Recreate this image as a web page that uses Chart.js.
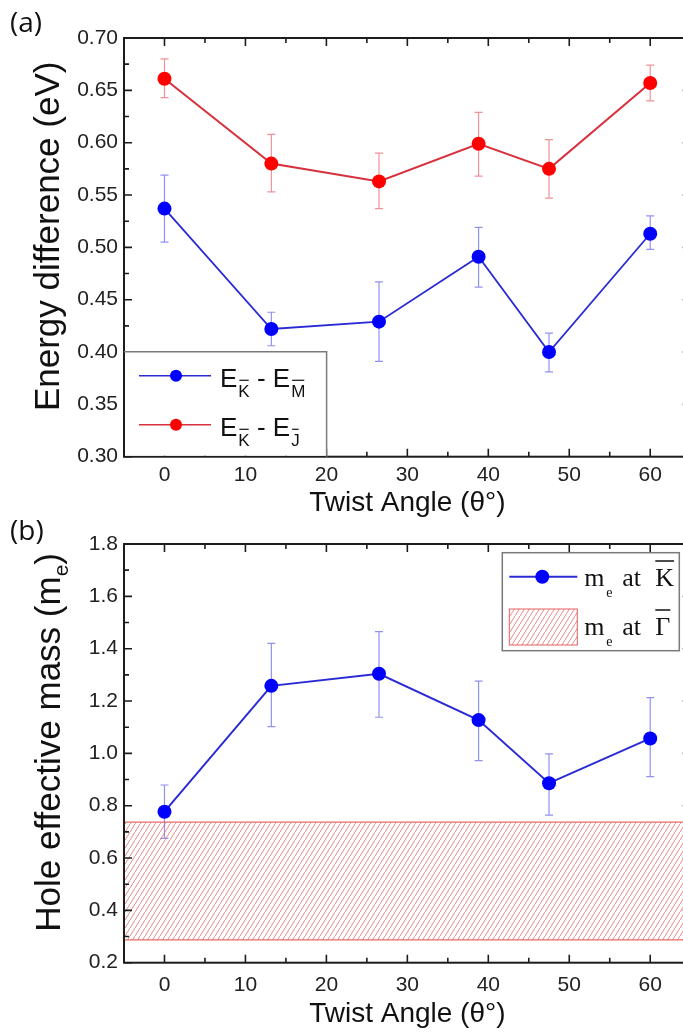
<!DOCTYPE html>
<html>
<head>
<meta charset="utf-8">
<script src="https://cdn.jsdelivr.net/npm/chart.js@4.4.0/dist/chart.umd.min.js"></script>
<style>
  html, body { margin: 0; padding: 0; background: #fff; overflow: hidden; width: 683px; height: 1033px; }
  .panel { position: absolute; left: 0; }
  #boxA { top: 0; }
  #boxB { top: 520px; }
</style>
</head>
<body>
<div class="panel" id="boxA"><canvas id="chartA" width="720" height="520"></canvas></div>
<div class="panel" id="boxB"><canvas id="chartB" width="720" height="513"></canvas></div>
<script>
// twist angles (deg)
const angles = [0, 13.2, 26.5, 38.8, 47.5, 60];

// (a) energy differences (eV) with error bar ends
const gapKM = [0.537, 0.422, 0.429, 0.491, 0.400, 0.513];
const gapKMLow = [0.505, 0.406, 0.391, 0.462, 0.381, 0.498];
const gapKMHigh = [0.569, 0.438, 0.467, 0.519, 0.418, 0.530];
const gapKJ = [0.661, 0.580, 0.563, 0.599, 0.575, 0.657];
const gapKJLow = [0.643, 0.553, 0.537, 0.568, 0.547, 0.640];
const gapKJHigh = [0.680, 0.608, 0.590, 0.629, 0.603, 0.674];

// (b) hole effective mass (m_e)
const massK = [0.777, 1.258, 1.304, 1.127, 0.886, 1.057];
const massKLow = [0.675, 1.102, 1.138, 0.972, 0.764, 0.911];
const massKHigh = [0.879, 1.420, 1.465, 1.276, 0.998, 1.213];
const massGamma = [0.287, 0.737]; // band at Gamma, low / high

// tick labels
const angleTicks = [0, 10, 20, 30, 40, 50, 60];
const energyTicks = [0.30, 0.35, 0.40, 0.45, 0.50, 0.55, 0.60, 0.65, 0.70];
const massTicks = [0.2, 0.4, 0.6, 0.8, 1.0, 1.2, 1.4, 1.6, 1.8];

const SANS = '"Liberation Sans", Arial, sans-serif';
const SERIF = '"Liberation Serif", "Times New Roman", serif';

const pts = (xs, ys) => xs.map((x, i) => ({ x: x, y: ys[i] }));

// majors from the list, minors half way between
const withMinors = (list) => {
  let out = [];
  list.forEach((v, i) => {
    out.push({ value: v, major: true });
    if (i < list.length - 1) out.push({ value: (v + list[i + 1]) / 2, major: false });
  });
  return out;
};

const hatch = () => {
  let c = document.createElement("canvas");
  c.width = 5;
  c.height = 8;
  let g = c.getContext("2d");
  g.strokeStyle = "rgba(226,90,90,0.7)";
  g.lineWidth = 1;
  g.beginPath();
  g.moveTo(0, 8);
  g.lineTo(5, 0);
  g.stroke();
  return g.createPattern(c, "repeat");
};
const hatchFill = hatch();

const errorBars = {
  id: "errorBars",
  beforeDatasetsDraw(chart) {
    const ctx = chart.ctx, y = chart.scales.y;
    chart.data.datasets.forEach((ds, i) => {
      if (!ds.errLow) return;
      const meta = chart.getDatasetMeta(i);
      ctx.save();
      ctx.strokeStyle = ds.errColor;
      ctx.lineWidth = 1.2;
      ctx.beginPath();
      meta.data.forEach((pt, j) => {
        const top = y.getPixelForValue(ds.errHigh[j]);
        const bot = y.getPixelForValue(ds.errLow[j]);
        ctx.moveTo(pt.x, top); ctx.lineTo(pt.x, bot);
        ctx.moveTo(pt.x - 4, top); ctx.lineTo(pt.x + 4, top);
        ctx.moveTo(pt.x - 4, bot); ctx.lineTo(pt.x + 4, bot);
      });
      ctx.stroke();
      ctx.restore();
    });
  },
};

// box with inward ticks on all four sides
const frame = {
  id: "frame",
  afterDatasetsDraw(chart) {
    const { ctx, chartArea: a, scales: { x, y } } = chart;
    ctx.save();
    ctx.strokeStyle = "#1c1c1c";
    ctx.lineWidth = 1.6;
    ctx.beginPath();
    x.ticks.forEach((t) => {
      const px = x.getPixelForValue(t.value), len = t.major ? 8 : 5;
      ctx.moveTo(px, a.bottom); ctx.lineTo(px, a.bottom - len);
      ctx.moveTo(px, a.top); ctx.lineTo(px, a.top + len);
    });
    y.ticks.forEach((t) => {
      const py = y.getPixelForValue(t.value), len = t.major ? 8 : 5;
      ctx.moveTo(a.left, py); ctx.lineTo(a.left + len, py);
      ctx.moveTo(a.right, py); ctx.lineTo(a.right - len, py);
    });
    ctx.stroke();
    ctx.lineWidth = 2;
    ctx.strokeRect(a.left, a.top, a.right - a.left, a.bottom - a.top);
    ctx.restore();
  },
};

// text with a small overlined letter set low
const barSub = (ctx, x, base, letter, size, drop) => {
  ctx.font = size + "px " + SANS;
  ctx.fillText(letter, x, base + drop);
  const w = ctx.measureText(letter).width;
  ctx.save();
  ctx.lineWidth = 1.2;
  ctx.beginPath();
  ctx.moveTo(x + 1, base + drop - size * 0.73 - 4);
  ctx.lineTo(x + w - 1, base + drop - size * 0.73 - 4);
  ctx.stroke();
  ctx.restore();
  return w;
};

const rotTitle = (ctx, parts, cx, cy) => {
  ctx.save();
  ctx.translate(cx, cy);
  ctx.rotate(-Math.PI / 2);
  ctx.fillStyle = "#111";
  ctx.textBaseline = "alphabetic";
  let total = 0;
  parts.forEach((p) => {
    ctx.font = p.size + "px " + SANS;
    p.w = ctx.measureText(p.t).width;
    total += p.w;
  });
  let x = -total / 2;
  parts.forEach((p) => {
    ctx.font = p.size + "px " + SANS;
    ctx.fillText(p.t, x, p.dy);
    x += p.w;
  });
  ctx.restore();
};

const panelLabel = (ctx, text, x, y) => {
  ctx.save();
  ctx.font = '28px "Open Sans", "Noto Sans", sans-serif';
  ctx.fillStyle = "#111";
  ctx.textBaseline = "middle";
  ctx.fillText(text, x, y);
  ctx.restore();
};

const legendA = {
  id: "legendA",
  afterDraw(chart) {
    const { ctx, chartArea: a } = chart;
    const L = a.left, T = a.bottom - 105, R = L + 202.6, B = a.bottom;
    ctx.save();
    ctx.fillStyle = "#fff";
    ctx.fillRect(L + 1, T, R - L - 1, B - T - 1);
    ctx.strokeStyle = "#7a7a7a";
    ctx.lineWidth = 1.5;
    ctx.beginPath();
    ctx.moveTo(L, T); ctx.lineTo(R, T); ctx.lineTo(R, B);
    ctx.stroke();
    const rows = [
      { ds: chart.data.datasets[0], sub: "M", y: T + 24 },
      { ds: chart.data.datasets[1], sub: "J", y: T + 73 },
    ];
    rows.forEach((r) => {
      ctx.strokeStyle = r.ds.borderColor;
      ctx.lineWidth = 1.6;
      ctx.beginPath();
      ctx.moveTo(L + 15, r.y); ctx.lineTo(L + 87, r.y);
      ctx.stroke();
      ctx.fillStyle = r.ds.pointBackgroundColor;
      ctx.beginPath();
      ctx.arc(L + 52, r.y, 6, 0, Math.PI * 2);
      ctx.fill();
      ctx.fillStyle = "#111";
      ctx.strokeStyle = "#111";
      const base = r.y + 11;
      let x = L + 96;
      ctx.font = "26px " + SANS;
      ctx.fillText("E", x, base);
      x += ctx.measureText("E").width + 1;
      x += barSub(ctx, x, base, "K", 17, 10);
      ctx.font = "26px " + SANS;
      ctx.fillText(" - E", x, base);
      x += ctx.measureText(" - E").width + 1;
      barSub(ctx, x, base, r.sub, 17, 10);
    });
    ctx.restore();
    rotTitle(ctx, [{ t: "Energy difference (eV)", size: 35, dy: 12 }], 47, (a.top + a.bottom) / 2 - 11);
    panelLabel(ctx, "(a)", 10, 24);
  },
};

const legendB = {
  id: "legendB",
  afterDraw(chart) {
    const { ctx, chartArea: a } = chart;
    const R = a.right - 11.4, L = R - 177, T = a.top + 8.7, B = T + 98;
    ctx.save();
    ctx.fillStyle = "#fff";
    ctx.fillRect(L, T, R - L, B - T);
    ctx.strokeStyle = "#7a7a7a";
    ctx.lineWidth = 1.5;
    ctx.strokeRect(L, T, R - L, B - T);
    const ds = chart.data.datasets[0];
    const y1 = T + 24;
    ctx.strokeStyle = ds.borderColor;
    ctx.lineWidth = 2;
    ctx.beginPath();
    ctx.moveTo(L + 7, y1); ctx.lineTo(L + 75, y1);
    ctx.stroke();
    ctx.fillStyle = ds.pointBackgroundColor;
    ctx.beginPath();
    ctx.arc(L + 40, y1, 7, 0, Math.PI * 2);
    ctx.fill();
    ctx.fillStyle = hatchFill;
    ctx.fillRect(L + 7, T + 56.3, 68, 36);
    ctx.strokeStyle = "rgba(226,80,80,0.9)";
    ctx.lineWidth = 1;
    ctx.strokeRect(L + 7, T + 56.3, 68, 36);
    ctx.fillStyle = "#111";
    ctx.strokeStyle = "#111";
    [{ b: T + 33.3, sym: "K" }, { b: T + 82.3, sym: "Γ" }].forEach((r) => {
      ctx.font = "26px " + SERIF;
      ctx.fillText("m", L + 82, r.b);
      ctx.fillText("at", L + 120, r.b);
      ctx.fillText(r.sym, L + 153, r.b);
      const w = ctx.measureText(r.sym).width;
      ctx.lineWidth = 1.5;
      ctx.beginPath();
      ctx.moveTo(L + 153, r.b - 25); ctx.lineTo(L + 153 + w, r.b - 25);
      ctx.stroke();
      ctx.font = "14px " + SERIF;
      ctx.fillText("e", L + 104, r.b + 11);
    });
    ctx.restore();
    rotTitle(ctx, [
      { t: "Hole effective mass (m", size: 35, dy: 12 },
      { t: "e", size: 21, dy: 20 },
      { t: ")", size: 35, dy: 12 },
    ], 48, (a.top + a.bottom) / 2 - 11);
    panelLabel(ctx, "(b)", 10, 12);
  },
};

const xAxis = (pad, height, titlePad) => ({
  type: "linear",
  min: -5,
  max: 65,
  afterBuildTicks: (s) => { s.ticks = withMinors(angleTicks); },
  afterFit: (s) => { s.height = height; },
  grid: { display: false, drawTicks: false },
  border: { display: false },
  ticks: {
    padding: pad,
    autoSkip: false,
    maxRotation: 0,
    color: "#222",
    font: { family: SANS, size: 21 },
    callback: (v, i, t) => (t[i].major ? String(v) : ""),
  },
  title: {
    display: true,
    text: "Twist Angle (θ°)",
    color: "#111",
    font: { family: SANS, size: 28 },
    padding: { top: 0, bottom: titlePad },
  },
});

const yAxis = (min, max, list, digits) => ({
  type: "linear",
  min: min,
  max: max,
  afterBuildTicks: (s) => { s.ticks = withMinors(list); },
  afterFit: (s) => { s.width = 124; },
  grid: { display: false, drawTicks: false },
  border: { display: false },
  ticks: {
    padding: 6,
    autoSkip: false,
    color: "#222",
    font: { family: SANS, size: 21 },
    callback: (v, i, t) => (t[i].major ? v.toFixed(digits) : ""),
  },
});

barChart = new Chart(document.getElementById("chartA"), {
  type: "line",
  data: {
    datasets: [
      {
        label: "E_K - E_M",
        data: pts(angles, gapKM),
        errLow: gapKMLow,
        errHigh: gapKMHigh,
        errColor: "rgba(100,100,235,0.7)",
        borderColor: "#2b2bd6",
        borderWidth: 1.8,
        pointBackgroundColor: "#0000ff",
        pointBorderWidth: 0,
        pointRadius: 7,
      },
      {
        label: "E_K - E_J",
        data: pts(angles, gapKJ),
        errLow: gapKJLow,
        errHigh: gapKJHigh,
        errColor: "rgba(235,100,110,0.7)",
        borderColor: "#d8303c",
        borderWidth: 2,
        pointBackgroundColor: "#ff0000",
        pointBorderWidth: 0,
        pointRadius: 7,
      },
    ],
  },
  options: {
    responsive: false,
    animation: false,
    layout: { padding: { top: 38, right: 29.3, left: 0, bottom: 0 } },
    plugins: { legend: { display: false }, tooltip: { enabled: false } },
    scales: {
      x: xAxis(6, 63.3, 0),
      y: yAxis(0.3, 0.7, energyTicks, 2),
    },
  },
  plugins: [errorBars, frame, legendA],
});

barPrin = new Chart(document.getElementById("chartB"), {
  type: "line",
  data: {
    datasets: [
      {
        label: "m_e at K",
        data: pts(angles, massK),
        errLow: massKLow,
        errHigh: massKHigh,
        errColor: "rgba(100,100,235,0.7)",
        borderColor: "#2b2bd6",
        borderWidth: 2,
        pointBackgroundColor: "#0000ff",
        pointBorderWidth: 0,
        pointRadius: 7,
        order: 0,
      },
      {
        label: "Gamma top",
        data: pts([-5, 65], [massGamma[1], massGamma[1]]),
        borderColor: "rgba(230,90,90,0.9)",
        borderWidth: 1.2,
        pointRadius: 0,
        fill: false,
        order: 1,
      },
      {
        label: "m_e at Gamma",
        data: pts([-5, 65], [massGamma[0], massGamma[0]]),
        borderColor: "rgba(230,90,90,0.9)",
        borderWidth: 1.2,
        pointRadius: 0,
        backgroundColor: hatchFill,
        fill: "-1",
        order: 2,
      },
    ],
  },
  options: {
    responsive: false,
    animation: false,
    layout: { padding: { top: 24, right: 29.3, left: 0, bottom: 0 } },
    plugins: { legend: { display: false }, tooltip: { enabled: false } },
    scales: {
      x: xAxis(10, 70.3, 2),
      y: yAxis(0.2, 1.8, massTicks, 1),
    },
  },
  plugins: [errorBars, frame, legendB],
});
</script>
</body>
</html>
